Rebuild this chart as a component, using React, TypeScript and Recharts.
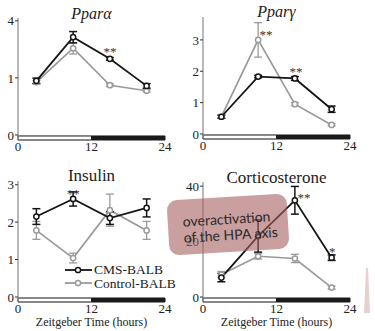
import React from "react";
import { LineChart, Line, XAxis, YAxis, ErrorBar, ReferenceArea, ReferenceDot, Legend } from "recharts";

// sampling times (Zeitgeber time, hours)
const hours = [3, 9, 15, 21];
const xTicks = [0, 12, 24];
const lightPhase = [0, 12];
const darkPhase = [12, 24];
const seriesNames = ["CMS-BALB", "Control-BALB"];

const pparaCms = [0.9, 2.94, 1.78, 0.74];
const pparaCmsErr = [0.09, 0.34, 0.06, 0.07];
const pparaCtl = [0.86, 2.31, 0.76, 0.6];
const pparaCtlErr = [0.05, 0.3, 0.04, 0.03];
const pparaTicks = [0, 1, 4];
const pparaStars = [{ x: 15, y: 2.15, text: "**" }];

const ppargCms = [0.55, 1.83, 1.77, 0.79];
const ppargCmsErr = [0.05, 0.04, 0.06, 0.1];
const ppargCtl = [0.55, 3.0, 0.95, 0.29];
const ppargCtlErr = [0.04, 0.55, 0.05, 0.03];
const ppargTicks = [0, 1, 2, 3];
const ppargStars = [
  { x: 10.3, y: 3.2, text: "**" },
  { x: 15.2, y: 2.02, text: "**" },
];

const insulinCms = [2.15, 2.62, 2.11, 2.38];
const insulinCmsErr = [0.21, 0.19, 0.17, 0.24];
const insulinCtl = [1.78, 1.04, 2.32, 1.78];
const insulinCtlErr = [0.24, 0.13, 0.43, 0.24];
const insulinTicks = [0, 1, 2, 3];
const insulinStars = [{ x: 9, y: 2.79, text: "**" }];

const corticoCms = [7.0, 22.0, 34.9, 14.2];
const corticoCmsErr = [1.5, 5.8, 5, 1];
const corticoCtl = [8.1, 14.7, 13.9, 3.4];
const corticoCtlErr = [1.1, 1, 1.5, 0.5];
const corticoTicks = [0, 20, 40];
const corticoStars = [
  { x: 16.5, y: 36.1, text: "**" },
  { x: 21.1, y: 16.8, text: "*" },
];

const SERIF = '"Liberation Serif", "Times New Roman", serif';
const CMS_COLOR = "#151515";
const CTL_COLOR = "#9a9a9a";

type Star = { x: number; y: number; text: string };

interface PanelProps {
  left: number;
  top: number;
  height: number;
  marginTop: number;
  xAxisHeight: number;
  cms: number[];
  cmsErr: number[];
  ctl: number[];
  ctlErr: number[];
  yTicks: number[];
  yDomain: [number, number];
  bar: [number, number]; // light/dark strip just under zero
  sqrt?: boolean;
  stars: Star[];
  title: string;
  italic?: boolean;
  titleTop: number;
  titleSize: number;
  xLabel?: boolean;
  legend?: boolean;
}

const renderLegend = (props: any) => (
  <div style={{ fontFamily: SERIF, fontSize: 13.5, color: "#222" }}>
    {(props.payload || []).map((entry: any) => (
      <div key={entry.value} style={{ display: "flex", alignItems: "center", height: 13.5 }}>
        <svg width={28} height={8}>
          <line x1={0} y1={4} x2={27} y2={4} stroke={entry.color} strokeWidth={1.8} />
          <circle cx={13} cy={4} r={2.6} fill="#fff" stroke={entry.color} strokeWidth={1.5} />
        </svg>
        <span style={{ marginLeft: 1, lineHeight: 1 }}>{entry.value}</span>
      </div>
    ))}
  </div>
);

const StarLabel = (props: any) => {
  const vb = props.viewBox || {};
  const cx = (vb.x ?? vb.cx ?? 0) + (vb.width ?? 0) / 2;
  const cy = (vb.y ?? vb.cy ?? 0) + (vb.height ?? 0) / 2;
  return (
    <text x={cx} y={cy} dy="0.4em" textAnchor="middle" fontSize={13} fill="#333" fontFamily={SERIF}>
      {props.value}
    </text>
  );
};

function Panel(p: PanelProps) {
  const width = 185;
  const data = hours.map((t, i) => ({
    t,
    cms: p.cms[i],
    cmsErr: p.cmsErr[i],
    ctl: p.ctl[i],
    ctlErr: p.ctlErr[i],
  }));
  const tick = { fill: "#222", fontSize: 13, fontFamily: SERIF };
  return (
    <>
      <div style={{ position: "absolute", left: p.left, top: p.top, fontFamily: SERIF }}>
        <LineChart
          width={width}
          height={p.height}
          data={data}
          margin={{ top: p.marginTop, right: 20, left: 0, bottom: 0 }}
        >
          <XAxis
            dataKey="t"
            type="number"
            domain={[0, 24]}
            ticks={xTicks}
            interval={0}
            axisLine={false}
            tickLine={false}
            tickSize={0}
            tickMargin={2}
            tick={tick}
            height={p.xAxisHeight}
            label={
              p.xLabel
                ? { value: "Zeitgeber Time (hours)", position: "insideBottom", offset: 5, fill: "#222", fontSize: 12, fontFamily: SERIF }
                : undefined
            }
          />
          <YAxis
            type="number"
            scale={p.sqrt ? "sqrt" : "linear"}
            domain={p.yDomain}
            ticks={p.yTicks}
            allowDataOverflow
            width={18}
            tickSize={3}
            tickMargin={1}
            axisLine={{ stroke: "#8a8a8a", strokeWidth: 1.2 }}
            tickLine={{ stroke: "#333" }}
            tick={tick}
          />
          <ReferenceArea
            x1={lightPhase[0]}
            x2={lightPhase[1]}
            y1={p.bar[0]}
            y2={p.bar[1]}
            fill="#fff"
            fillOpacity={1}
            stroke="#111"
            strokeWidth={1}
            ifOverflow="visible"
          />
          <ReferenceArea
            x1={darkPhase[0]}
            x2={darkPhase[1]}
            y1={p.bar[0]}
            y2={p.bar[1]}
            fill="#1a1a1a"
            fillOpacity={1}
            stroke="#1a1a1a"
            strokeWidth={1}
            ifOverflow="visible"
          />
          <Line
            dataKey="ctl"
            name={seriesNames[1]}
            stroke={CTL_COLOR}
            strokeWidth={1.7}
            dot={{ r: 2.6, fill: "#fff", stroke: CTL_COLOR, strokeWidth: 1.5 }}
            isAnimationActive={false}
          >
            <ErrorBar dataKey="ctlErr" width={4} stroke={CTL_COLOR} strokeWidth={1.3} isAnimationActive={false} />
          </Line>
          <Line
            dataKey="cms"
            name={seriesNames[0]}
            stroke={CMS_COLOR}
            strokeWidth={1.8}
            dot={{ r: 2.6, fill: "#fff", stroke: CMS_COLOR, strokeWidth: 1.5 }}
            isAnimationActive={false}
          >
            <ErrorBar dataKey="cmsErr" width={4} stroke={CMS_COLOR} strokeWidth={1.5} isAnimationActive={false} />
          </Line>
          {p.stars.map((s, i) => (
            <ReferenceDot
              key={i}
              x={s.x}
              y={s.y}
              r={0.1}
              fill="none"
              stroke="none"
              ifOverflow="visible"
              label={<StarLabel value={s.text} />}
            />
          ))}
          {p.legend && (
            <Legend
              layout="vertical"
              align="center"
              verticalAlign="middle"
              content={renderLegend}
              wrapperStyle={{ left: 65, top: 103, width: 130 }}
            />
          )}
        </LineChart>
      </div>
      <div
        style={{
          position: "absolute",
          left: p.left + 18,
          width: 147,
          top: p.titleTop,
          textAlign: "center",
          fontFamily: SERIF,
          fontSize: p.titleSize,
          fontStyle: p.italic ? "italic" : "normal",
          lineHeight: 1,
          color: "#222",
          whiteSpace: "nowrap",
        }}
      >
        {p.title}
      </div>
    </>
  );
}

export default function App() {
  return (
    <div style={{ position: "absolute", left: 0, top: 0, width: 375, height: 331, background: "#fff", overflow: "hidden", fontFamily: SERIF }}>
      <Panel
        left={0}
        top={0}
        height={160}
        marginTop={18}
        xAxisHeight={20}
        cms={pparaCms}
        cmsErr={pparaCmsErr}
        ctl={pparaCtl}
        ctlErr={pparaCtlErr}
        yTicks={pparaTicks}
        yDomain={[-0.0077, 4.2]}
        bar={[-0.0077, -0.0003]}
        sqrt
        stars={pparaStars}
        title="Pparα"
        italic
        titleTop={6}
        titleSize={16}
      />
      <Panel
        left={185}
        top={0}
        height={160}
        marginTop={17}
        xAxisHeight={21}
        cms={ppargCms}
        cmsErr={ppargCmsErr}
        ctl={ppargCtl}
        ctlErr={ppargCtlErr}
        yTicks={ppargTicks}
        yDomain={[-0.16, 3.73]}
        bar={[-0.16, -0.032]}
        stars={ppargStars}
        title="Pparγ"
        italic
        titleTop={4}
        titleSize={16}
      />
      <Panel
        left={0}
        top={160}
        height={171}
        marginTop={21}
        xAxisHeight={29}
        cms={insulinCms}
        cmsErr={insulinCmsErr}
        ctl={insulinCtl}
        ctlErr={insulinCtlErr}
        yTicks={insulinTicks}
        yDomain={[-0.134, 3.1]}
        bar={[-0.134, -0.027]}
        stars={insulinStars}
        title="Insulin"
        titleTop={167}
        titleSize={17}
        xLabel
        legend
      />
      <Panel
        left={185}
        top={160}
        height={171}
        marginTop={22}
        xAxisHeight={29}
        cms={corticoCms}
        cmsErr={corticoCmsErr}
        ctl={corticoCtl}
        ctlErr={corticoCtlErr}
        yTicks={corticoTicks}
        yDomain={[-1.8, 41.5]}
        bar={[-1.8, -0.36]}
        stars={corticoStars}
        title="Corticosterone"
        titleTop={169}
        titleSize={17}
        xLabel
      />
      {/* callout box over the corticosterone panel */}
      <div
        style={{
          position: "absolute",
          left: 168,
          top: 197,
          width: 120,
          height: 55,
          borderRadius: 10,
          background: "rgba(165,95,95,0.6)",
          transform: "rotate(-3.5deg)",
          boxSizing: "border-box",
          paddingTop: 14,
          paddingLeft: 15,
          fontFamily: "Lato, 'Open Sans', sans-serif",
          fontSize: 14,
          lineHeight: "16px",
          color: "#2a2a2a",
          whiteSpace: "nowrap",
        }}
      >
        overactivation
        <br />
        of the HPA axis
      </div>
      <svg style={{ position: "absolute", left: 0, top: 0 }} width={375} height={331}>
        <polygon points="366,268 368,268 370,313 364,313" fill="rgba(200,150,150,0.45)" />
      </svg>
    </div>
  );
}
